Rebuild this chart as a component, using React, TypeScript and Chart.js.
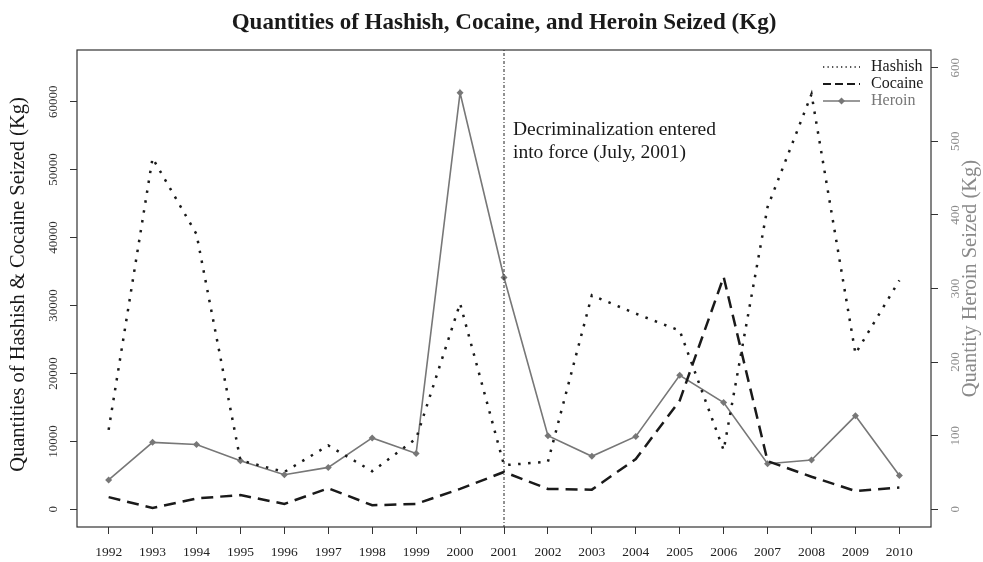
import React, { useEffect, useRef } from 'react';
import { Chart, registerables } from 'chart.js';

Chart.register(...registerables);

// ---- data ----
const years = [1992, 1993, 1994, 1995, 1996, 1997, 1998, 1999, 2000, 2001, 2002, 2003, 2004, 2005, 2006, 2007, 2008, 2009, 2010];
const hashish = [11700, 51700, 40500, 7200, 5500, 9400, 5600, 10400, 30300, 6500, 7000, 31500, 28800, 26300, 8700, 44500, 61100, 22900, 33700];
const cocaine = [1800, 200, 1600, 2100, 800, 3100, 600, 800, 3000, 5500, 3000, 2900, 7400, 16000, 34200, 7100, 4800, 2700, 3200];
const heroin = [40, 91, 88, 66, 47, 57, 97, 76, 566, 315, 100, 72, 99, 182, 145, 62, 67, 127, 46];
const leftTicks = [0, 10000, 20000, 30000, 40000, 50000, 60000];
const rightTicks = [0, 100, 200, 300, 400, 500, 600];
const seriesNames = ['Hashish', 'Cocaine', 'Heroin'];
const eventYear = 2001;
const annotationLines = ['Decriminalization entered', 'into force (July, 2001)'];
const chartTitle = 'Quantities of Hashish, Cocaine, and Heroin Seized (Kg)';
const leftTitle = 'Quantities of Hashish & Cocaine Seized (Kg)';
const rightTitle = 'Quantity Heroin Seized (Kg)';

const FONT = '"Liberation Serif", "Times New Roman", serif';
const DARK = '#1a1a1a';
const GRAY = '#777777';
const LABEL_GRAY = '#8a8a8a';

const decorPlugin = {
  id: 'decor',
  afterDraw(chart: any) {
    const ctx = chart.ctx as CanvasRenderingContext2D;
    const a = chart.chartArea;
    const xs = chart.scales.x;
    const yl = chart.scales.y;
    const yr = chart.scales.y1;
    const midY = (a.top + a.bottom) / 2;
    ctx.save();

    // box
    ctx.strokeStyle = '#333';
    ctx.lineWidth = 1.2;
    ctx.strokeRect(a.left, a.top, a.right - a.left, a.bottom - a.top);

    // title
    ctx.fillStyle = DARK;
    ctx.font = `bold 23px ${FONT}`;
    ctx.textAlign = 'center';
    ctx.textBaseline = 'alphabetic';
    ctx.fillText(chartTitle, (a.left + a.right) / 2, 29);

    // event line
    const vx = xs.getPixelForValue(eventYear);
    ctx.strokeStyle = '#222';
    ctx.lineWidth = 1;
    ctx.setLineDash([1, 2, 3, 2]);
    ctx.beginPath();
    ctx.moveTo(vx, a.top);
    ctx.lineTo(vx, a.bottom);
    ctx.stroke();
    ctx.setLineDash([]);

    // annotation
    ctx.font = `19.5px ${FONT}`;
    ctx.textAlign = 'left';
    ctx.textBaseline = 'middle';
    ctx.fillStyle = DARK;
    ctx.fillText(annotationLines[0], vx + 9, 130);
    ctx.fillText(annotationLines[1], vx + 9, 153);

    // left tick labels (rotated)
    ctx.font = `13px ${FONT}`;
    ctx.fillStyle = '#333';
    for (const v of leftTicks) {
      const py = yl.getPixelForValue(v);
      ctx.save();
      ctx.translate(57, py);
      ctx.rotate(-Math.PI / 2);
      ctx.textAlign = 'center';
      ctx.textBaseline = 'alphabetic';
      ctx.fillText(String(v), 0, 0);
      ctx.restore();
    }
    // right tick labels (rotated)
    ctx.fillStyle = LABEL_GRAY;
    for (const v of rightTicks) {
      const py = yr.getPixelForValue(v);
      ctx.save();
      ctx.translate(956, py);
      ctx.rotate(-Math.PI / 2);
      ctx.textAlign = 'center';
      ctx.textBaseline = 'middle';
      ctx.fillText(String(v), 0, 0);
      ctx.restore();
    }

    // axis titles
    ctx.font = `20.5px ${FONT}`;
    ctx.fillStyle = DARK;
    ctx.save();
    ctx.translate(19, midY - 4);
    ctx.rotate(-Math.PI / 2);
    ctx.textAlign = 'center';
    ctx.textBaseline = 'middle';
    ctx.fillText(leftTitle, 0, 0);
    ctx.restore();

    ctx.fillStyle = LABEL_GRAY;
    ctx.save();
    ctx.translate(971, midY - 10);
    ctx.rotate(-Math.PI / 2);
    ctx.textAlign = 'center';
    ctx.textBaseline = 'middle';
    ctx.fillText(rightTitle, 0, 0);
    ctx.restore();

    // legend
    const rows = [67, 84, 101];
    const sx0 = 823, sx1 = 860, tx = 871;
    ctx.font = `16px ${FONT}`;
    ctx.textAlign = 'left';
    ctx.textBaseline = 'middle';
    // hashish
    ctx.strokeStyle = DARK;
    ctx.lineWidth = 1.3;
    ctx.setLineDash([1.3, 3.2]);
    ctx.beginPath(); ctx.moveTo(sx0, rows[0]); ctx.lineTo(sx1, rows[0]); ctx.stroke();
    // cocaine
    ctx.lineWidth = 1.8;
    ctx.setLineDash([8, 4]);
    ctx.beginPath(); ctx.moveTo(sx0, rows[1]); ctx.lineTo(sx1, rows[1]); ctx.stroke();
    ctx.setLineDash([]);
    // heroin
    ctx.strokeStyle = GRAY;
    ctx.lineWidth = 1.5;
    ctx.beginPath(); ctx.moveTo(sx0, rows[2]); ctx.lineTo(sx1, rows[2]); ctx.stroke();
    const cx = (sx0 + sx1) / 2;
    ctx.fillStyle = GRAY;
    ctx.beginPath();
    ctx.moveTo(cx, rows[2] - 3.5); ctx.lineTo(cx + 3.5, rows[2]); ctx.lineTo(cx, rows[2] + 3.5); ctx.lineTo(cx - 3.5, rows[2]);
    ctx.closePath(); ctx.fill();
    ctx.fillStyle = DARK;
    ctx.fillText(seriesNames[0], tx, rows[0]);
    ctx.fillText(seriesNames[1], tx, rows[1]);
    ctx.fillStyle = GRAY;
    ctx.fillText(seriesNames[2], tx, rows[2]);

    ctx.restore();
  },
};

export default function App() {
  const ref = useRef<HTMLCanvasElement | null>(null);
  useEffect(() => {
    if (!ref.current) return;
    const tickGrid = { drawOnChartArea: false, drawTicks: true, tickLength: 7, color: '#333', lineWidth: 1 };
    const chart = new Chart(ref.current, {
      type: 'line',
      data: {
        datasets: [
          {
            label: seriesNames[0],
            data: years.map((yr, i) => ({ x: yr, y: hashish[i] })),
            yAxisID: 'y',
            borderColor: DARK,
            borderWidth: 2.5,
            borderDash: [2.5, 7.5],
            borderCapStyle: 'butt',
            pointRadius: 0,
            tension: 0,
            fill: false,
          },
          {
            label: seriesNames[1],
            data: years.map((yr, i) => ({ x: yr, y: cocaine[i] })),
            yAxisID: 'y',
            borderColor: DARK,
            borderWidth: 2.5,
            borderDash: [12, 7],
            pointRadius: 0,
            tension: 0,
            fill: false,
          },
          {
            label: seriesNames[2],
            data: years.map((yr, i) => ({ x: yr, y: heroin[i] })),
            yAxisID: 'y1',
            borderColor: GRAY,
            backgroundColor: GRAY,
            borderWidth: 1.6,
            pointStyle: 'rectRot',
            pointRadius: 3.5,
            pointBackgroundColor: GRAY,
            pointBorderColor: GRAY,
            pointBorderWidth: 0,
            tension: 0,
            fill: false,
          },
        ],
      },
      options: {
        responsive: false,
        animation: false,
        layout: { padding: { top: 50, left: 0, right: 0, bottom: 0 } },
        plugins: { legend: { display: false }, tooltip: { enabled: false }, title: { display: false } },
        scales: {
          x: {
            type: 'linear',
            min: 1991.28,
            max: 2010.72,
            afterBuildTicks: (s: any) => { s.ticks = years.map((v) => ({ value: v })); },
            afterFit: (s: any) => { s.height = 35; },
            ticks: {
              callback: (v: any) => String(v),
              font: { family: FONT, size: 13.5 },
              color: '#222',
              padding: 10,
              maxRotation: 0,
              minRotation: 0,
              autoSkip: false,
            },
            grid: tickGrid,
            border: { display: false },
          },
          y: {
            type: 'linear',
            position: 'left',
            min: -2600,
            max: 67600,
            afterBuildTicks: (s: any) => { s.ticks = leftTicks.map((v) => ({ value: v })); },
            afterFit: (s: any) => { s.width = 77; },
            ticks: { display: false },
            grid: tickGrid,
            border: { display: false },
          },
          y1: {
            type: 'linear',
            position: 'right',
            min: -24,
            max: 624,
            afterBuildTicks: (s: any) => { s.ticks = rightTicks.map((v) => ({ value: v })); },
            afterFit: (s: any) => { s.width = 52; },
            ticks: { display: false },
            grid: tickGrid,
            border: { display: false },
          },
        },
      },
      plugins: [decorPlugin],
    } as any);
    return () => chart.destroy();
  }, []);
  return (
    <div style={{ position: 'fixed', left: 0, top: 0, width: 983, height: 562, background: '#fff' }}>
      <canvas ref={ref} width={983} height={562} style={{ display: 'block' }} />
    </div>
  );
}
